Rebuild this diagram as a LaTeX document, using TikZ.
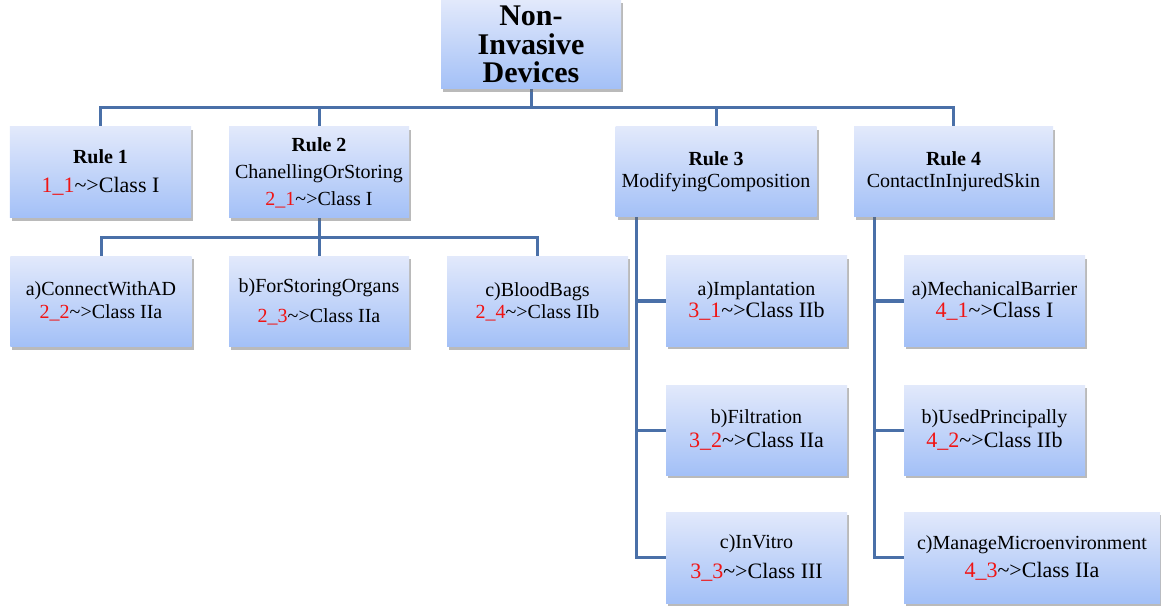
\documentclass[tikz,border=0pt]{standalone}
\usepackage{fontspec}
\setmainfont{Liberation Serif}
\usetikzlibrary{shadows,backgrounds}

\definecolor{linkblue}{RGB}{74,112,168}
\definecolor{boxtop}{RGB}{226,233,251}
\definecolor{boxbot}{RGB}{163,192,247}
\definecolor{codered}{RGB}{240,20,20}

% rule code in red, followed by the arrow to the class
\newcommand\rc[1]{\textcolor{codered}{#1}}
\newcommand\arr{\textasciitilde{}>}
\newcommand\lgsize{\fontsize{22bp}{24bp}\selectfont}

\tikzset{
  rulebox/.style={rectangle, inner sep=0pt, align=center,
    top color=boxtop, bottom color=boxbot,
    drop shadow={shadow xshift=2bp, shadow yshift=-3bp, opacity=0.45, fill=black!60},
    font=\fontsize{20bp}{24bp}\selectfont,
    minimum width=181bp, minimum height=90bp},
  conn/.style={draw=linkblue, line width=3bp, line join=miter},
}

\begin{document}
\begin{tikzpicture}[x=1bp,y=-1bp]
\useasboundingbox (0,0) rectangle (1161,607);

% root
\node[rulebox, minimum width=180bp, minimum height=89bp,
      font=\fontsize{30bp}{28.5bp}\selectfont\bfseries] (root) at (531,44.5)
  {Non-\\Invasive\\Devices};

% top-level rules
\node[rulebox, minimum height=91bp] (r1) at (100.5,172.5)
  {\textbf{Rule 1}\\[5bp]{\lgsize\rc{1\_1}\arr Class I}};
\node[rulebox, minimum width=180bp, minimum height=91bp] (r2) at (319,172.5)
  {\textbf{Rule 2}\\[3bp]ChanellingOrStoring\\[3bp]\rc{2\_1}\arr Class I};
\node[rulebox, minimum width=201bp] (r3) at (716,172)
  {\textbf{Rule 3}\\[-2bp]ModifyingComposition};
\node[rulebox, minimum width=199bp] (r4) at (953.5,172)
  {\textbf{Rule 4}\\[-2bp]ContactInInjuredSkin};

% sub-rules of rule 2
\node[rulebox] (r2a) at (101,301.5)
  {a)ConnectWithAD\\[-1bp]\rc{2\_2}\arr Class IIa};
\node[rulebox, minimum width=180bp] (r2b) at (319,301.5)
  {b)ForStoringOrgans\\[6bp]\rc{2\_3}\arr Class IIa};
\node[rulebox] (r2c) at (537.5,301.5)
  {c)BloodBags\\[-2bp]\rc{2\_4}\arr Class IIb};

% sub-rules of rule 3
\node[rulebox] (r3a) at (756.5,301)
  {a)Implantation\\[-2bp]{\lgsize\rc{3\_1}\arr Class IIb}};
\node[rulebox] (r3b) at (756.5,430)
  {b)Filtration\\[0bp]{\lgsize\rc{3\_2}\arr Class IIa}};
\node[rulebox, minimum height=91bp] (r3c) at (756.5,557.5)
  {c)InVitro\\[6bp]{\lgsize\rc{3\_3}\arr Class III}};

% sub-rules of rule 4
\node[rulebox] (r4a) at (994.5,301)
  {a)MechanicalBarrier\\[-2bp]{\lgsize\rc{4\_1}\arr Class I}};
\node[rulebox] (r4b) at (994.5,430)
  {b)UsedPrincipally\\[0bp]{\lgsize\rc{4\_2}\arr Class IIb}};
\node[rulebox, minimum width=256bp, minimum height=91bp] (r4c) at (1032,557.5)
  {c)ManageMicroenvironment\\[4bp]{\lgsize\rc{4\_3}\arr Class IIa}};

% connectors
\begin{scope}[on background layer]
  \coordinate (busA) at (0,108);
  \coordinate (busB) at (0,238);
  \coordinate (s3) at (636,0);
  \coordinate (s4) at (874,0);

  \draw[conn] (root.south) -- (root.south |- busA);
  \draw[conn] (r1.north) -- (r1.north |- busA) -- (r4.north |- busA) -- (r4.north);
  \draw[conn] (r2.north) -- (r2.north |- busA);
  \draw[conn] (r3.north) -- (r3.north |- busA);

  \draw[conn] (r2.south) -- (r2.south |- busB);
  \draw[conn] (r2a.north) -- (r2a.north |- busB) -- (r2c.north |- busB) -- (r2c.north);
  \draw[conn] (r2b.north) -- (r2b.north |- busB);

  \draw[conn] (r3.south -| s3) -- (s3 |- r3c.west) -- (r3c.west);
  \draw[conn] (s3 |- r3a.west) -- (r3a.west);
  \draw[conn] (s3 |- r3b.west) -- (r3b.west);

  \draw[conn] (r4.south -| s4) -- (s4 |- r4c.west) -- (r4c.west);
  \draw[conn] (s4 |- r4a.west) -- (r4a.west);
  \draw[conn] (s4 |- r4b.west) -- (r4b.west);
\end{scope}
\end{tikzpicture}
\end{document}
